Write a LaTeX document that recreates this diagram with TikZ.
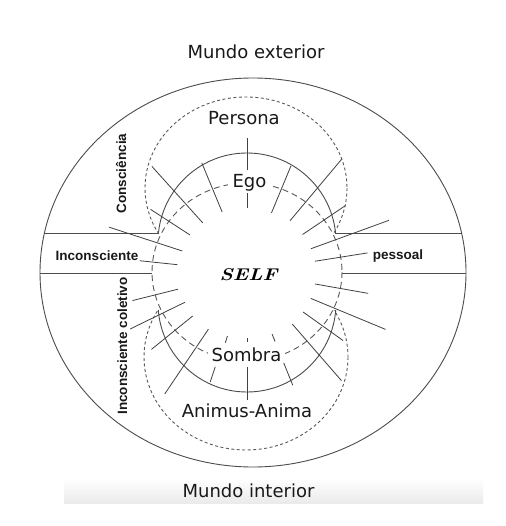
\documentclass[tikz,border=0pt]{standalone}
\usepackage{fontspec}
\usepackage{graphicx}
\newfontfamily\dvs{DejaVu Sans}
\newfontfamily\lbs{Liberation Sans}
\usetikzlibrary{calc}
\begin{document}
\begin{tikzpicture}[x=1pt,y=-1pt,
  ln/.style={draw=black!70, line width=0.9pt},
  tick/.style={draw=black!75, line width=0.8pt},
  dashA/.style={draw=black!65, line width=0.9pt, dash pattern=on 3pt off 2.5pt},
  dashB/.style={draw=black!65, line width=0.9pt, dash pattern=on 6pt off 4pt},
  big/.style={font=\dvs\fontsize{18}{20}\selectfont, text=black!90, inner sep=0pt},
  small/.style={font=\lbs\bfseries\fontsize{13.5}{15}\selectfont, text=black!90, inner sep=0pt}]
\useasboundingbox (0,0) rectangle (505,526);
\fill[white] (0,0) rectangle (505,526);
\shade[top color=white, bottom color=black!8] (64,478) rectangle (483,503);

\coordinate (C) at (247,272);
\coordinate (E) at (253,272.5);
% outer ellipse
\draw[ln] (E) ellipse [x radius=213, y radius=194.5];
% band
\coordinate (btl) at (44.4,233);
\coordinate (bti) at (158.5,233);
\coordinate (bbl) at (40,273);
\coordinate (bbi) at (152,273);
\coordinate (btr) at (461.6,233);
\coordinate (btj) at (335.5,233);
\coordinate (bbr) at (466,273);
\coordinate (bbj) at (342,273);
\draw[ln] (btl) -- (bti);
\draw[ln] (bbl) -- (bbi);
\draw[ln] (btj) -- (btr);
\draw[ln] (bbj) -- (bbr);
% middle dashed ellipse
\draw[dashB] (C) ellipse [x radius=95, y radius=89];
% upper arcs
\begin{scope}
\clip (0,0) rectangle (505,233);
\draw[ln] (247,242) circle [radius=89];
\draw[dashA] (246,188) ellipse [x radius=101, y radius=91];
\end{scope}
% lower arcs
\begin{scope}
\clip (0,310) rectangle (505,526);
\draw[ln] (247,303) circle [radius=89];
\draw[dashA] (246,357) ellipse [x radius=102, y radius=93];
\end{scope}
% radial ticks (image angles, clockwise)
\foreach \a/\ri/\ro in {-90/102/134, -90/64/79, -112.5/65/118, -132/66/142, -147/68/115,
  -162/68/145, -174/70/108, -67.5/64/115, -50/67/147, -34/67/119, -20/68/151, -9/69/122,
  10/69/123, 22.5/69/150, 35.5/69/118, 49/69/144, 68/67/75, 68/98/122, 90/66/70, 90/95/128,
  166/71/118, 154/69/130, 141/70/123, 124/69/147, 107/67/74, 108.5/100/116}
  \draw[tick] ($(C)+(\a:\ri)$) -- ($(C)+(\a:\ro)$);
% labels
\node[big, anchor=base] (mext) at (256,59) {Mundo exterior};
\node[big, anchor=base] (pers) at (244,125) {Persona};
\node[big, anchor=base, fill=white, inner xsep=5pt, inner ysep=1pt] (ego) at (249.5,188) {Ego};
\node[font=\fontsize{17}{20}\selectfont, anchor=base, inner sep=0pt] (self) at (248.5,280) {\scalebox{1.2}[1]{\bfseries\itshape SELF}};
\node[big, anchor=base, fill=white, inner xsep=4pt, inner ysep=1pt] (somb) at (246.5,361) {Sombra};
\node[big, anchor=base] (anim) at (247,417) {Animus-Anima};
\node[big, anchor=base] (mint) at (248.5,497) {Mundo interior};
\node[small, anchor=base] (inc) at (97,260) {Inconsciente};
\node[small, anchor=base] (pes) at (398,259) {pessoal};
\node[small, anchor=base, rotate=90] (cons) at (126,173.5) {Consciência};
\node[small, anchor=base, rotate=90] (incol) at (127,346) {Inconsciente coletivo};
\end{tikzpicture}
\end{document}
